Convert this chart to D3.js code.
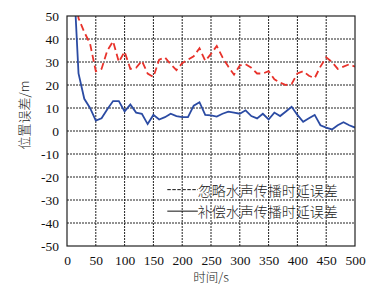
<!DOCTYPE html>
<html>
<head>
<meta charset="utf-8">
<script src="https://cdn.jsdelivr.net/npm/d3@7"></script>
<style>
  body { margin: 0; background: #fff; }
</style>
</head>
<body>
<div class="box"></div>
<script>
// data
const times = d3.range(10, 510, 10);
const ignoreDelay = [70, 49, 43, 38, 26, 27, 35, 39, 30, 34.5,
                     27, 27.5, 30.5, 25, 23.5, 31, 32, 29, 26.5, 29.5,
                     31, 32.5, 36, 30.5, 33.5, 37, 32, 28, 24.5, 28.5,
                     29, 27.5, 25, 25, 26, 22.5, 21, 20, 20.5, 25,
                     26, 24, 23, 28, 32, 30, 27, 28, 29, 28];
const compDelay = [75, 25, 14, 10, 4.5, 5.5, 9.5, 13, 13, 8.5,
                   11.5, 8, 7.5, 3, 7, 5, 6, 7.5, 6.5, 6,
                   6, 11, 12.5, 7, 6.8, 6.3, 7.5, 8.4, 8, 7.5,
                   9, 6.5, 5.5, 7.5, 5, 8, 6.5, 8.5, 10.5, 7,
                   4, 5.5, 7, 2.5, 1.5, 0.7, 2.5, 3.8, 2.5, 1.5];
const xTicks = [0, 50, 100, 150, 200, 250, 300, 350, 400, 450, 500];
const yTicks = [-50, -40, -30, -20, -10, 0, 10, 20, 30, 40, 50];
const seriesNames = ['忽略水声传播时延误差', '补偿水声传播时延误差'];

const W = 372, H = 294;
const margin = {top: 16, right: 17, bottom: 48, left: 67};
const graphWidth = W - margin.left - margin.right;
const graphHeight = H - margin.top - margin.bottom;
const serif = "'Liberation Serif', 'Times New Roman', serif";
const cjk = "'Noto Sans CJK SC', sans-serif";

const svg = d3.select('.box')
              .append('svg')
              .attr('width', W)
              .attr('height', H);

const graph = svg.append('g')
                 .attr('transform', `translate(${margin.left}, ${margin.top})`);

const x = d3.scaleLinear().domain([0, 500]).range([0, graphWidth]);
const y = d3.scaleLinear().domain([-50, 50]).range([graphHeight, 0]);

// grid
graph.append('g')
     .selectAll('line')
     .data(xTicks.slice(1, -1))
     .enter().append('line')
     .attr('x1', d => x(d)).attr('x2', d => x(d))
     .attr('y1', 0).attr('y2', graphHeight)
     .attr('stroke', '#222').attr('stroke-width', 1)
     .attr('stroke-dasharray', '2,1');
graph.append('g')
     .selectAll('line')
     .data(yTicks.slice(1, -1))
     .enter().append('line')
     .attr('x1', 0).attr('x2', graphWidth)
     .attr('y1', d => y(d)).attr('y2', d => y(d))
     .attr('stroke', '#222').attr('stroke-width', 1)
     .attr('stroke-dasharray', '2,1');

// tick labels (plain hyphen for negatives, like the original)
const fmt = d => String(d);
const axeX = d3.axisBottom(x).tickValues(xTicks).tickFormat(fmt).tickSize(0).tickPadding(9);
const axeY = d3.axisLeft(y).tickValues(yTicks).tickFormat(fmt).tickSize(0).tickPadding(8);
const gx = graph.append('g').attr('transform', `translate(0, ${graphHeight})`).call(axeX);
const gy = graph.append('g').call(axeY);
[gx, gy].forEach(g => {
  g.attr('font-family', serif).attr('font-size', 13.5);
  g.select('.domain').remove();
  g.selectAll('text')
   .attr('style', `font-family:${serif};font-size:13.5px`)
   .attr('fill', '#111');
});

// clip
svg.append('defs').append('clipPath').attr('id', 'clip')
   .append('rect').attr('width', graphWidth).attr('height', graphHeight);

const line = vals => d3.line()
                     .x((d, i) => x(times[i]))
                     .y(d => y(d))(vals);

const plot = graph.append('g').attr('clip-path', 'url(#clip)');
plot.append('path')
    .attr('d', line(ignoreDelay))
    .attr('fill', 'none')
    .attr('stroke', '#e8322b')
    .attr('stroke-width', 1.8)
    .attr('stroke-dasharray', '7,4');
plot.append('path')
    .attr('d', line(compDelay))
    .attr('fill', 'none')
    .attr('stroke', '#2b4ba3')
    .attr('stroke-width', 1.8);

// frame
graph.append('rect')
     .attr('width', graphWidth).attr('height', graphHeight)
     .attr('fill', 'none').attr('stroke', '#222').attr('stroke-width', 1.2);

// legend
const legend = graph.append('g').attr('transform', `translate(${x(175)}, ${y(-25.5)})`);
seriesNames.forEach((name, i) => {
  const g = legend.append('g').attr('transform', `translate(0, ${i * 21.5})`);
  g.append('line')
   .attr('x1', -0.5).attr('x2', 30).attr('y1', 0).attr('y2', 0)
   .attr('stroke', '#111').attr('stroke-width', 1)
   .attr('stroke-dasharray', i === 0 ? '3.5,1.5' : null);
  g.append('text')
   .attr('x', 30).attr('y', 0)
   .attr('dominant-baseline', 'central')
   .attr('style', `font-family:${cjk};font-size:14px;font-weight:300`)
   .attr('fill', '#222')
   .text(name);
});

// axis titles
svg.append('text')
   .attr('x', margin.left + x(250)).attr('y', 282)
   .attr('text-anchor', 'middle')
   .attr('style', `font-family:${cjk};font-size:12.5px;font-weight:300`)
   .attr('fill', '#222')
   .text('时间/s');
svg.append('text')
   .attr('transform', `translate(23, 115) rotate(-90)`)
   .attr('text-anchor', 'middle')
   .attr('dominant-baseline', 'central')
   .attr('style', `font-family:${cjk};font-size:13px;font-weight:300`)
   .attr('fill', '#222')
   .text('位置误差/m');
</script>
</body>
</html>
